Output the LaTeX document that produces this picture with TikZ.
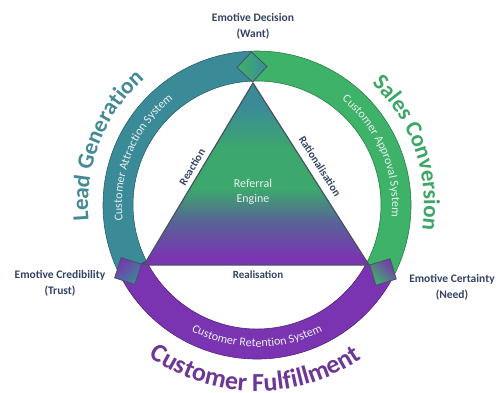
\documentclass[tikz,border=0pt]{standalone}
\usepackage{fontspec}
\setmainfont{Carlito}
\usetikzlibrary{calc, positioning, decorations.text, shapes.geometric}

\definecolor{ringteal}{RGB}{58,138,152}
\definecolor{ringgreen}{RGB}{62,178,104}
\definecolor{ringpurple}{RGB}{122,52,178}
\definecolor{enginegreen}{RGB}{60,168,110}
\definecolor{engineslate}{RGB}{88,100,150}
\definecolor{labelnavy}{RGB}{52,66,100}
\definecolor{edgegray}{RGB}{72,82,98}
\definecolor{leadcol}{RGB}{68,138,150}
\definecolor{salescol}{RGB}{60,166,100}
\definecolor{fulfilcol}{RGB}{110,55,150}
\definecolor{ringwhite}{RGB}{232,240,240}

\pgfdeclareverticalshading{engineshade}{100bp}{color(0bp)=(ringpurple); color(27bp)=(ringpurple); color(37bp)=(engineslate); color(46bp)=(enginegreen); color(57bp)=(enginegreen); color(69bp)=(ringteal); color(100bp)=(ringteal)}

\newcommand\ringbigfont{\bfseries\fontsize{23}{28}\selectfont}
\newcommand\ringhugefont{\bfseries\fontsize{26}{30}\selectfont}
\newcommand\ringsmallfont{\fontsize{12}{14}\selectfont}

\tikzset{
	ringsector/.style={fill=#1, draw=#1!70!black, line width=0.6pt},
	ringtext/.style={decorate, decoration={text along path, text align=center, text={#1}}},
	cornerlbl/.style={align=center, inner sep=0pt, text=labelnavy, font=\bfseries\fontsize{11.5}{16}\selectfont},
	edgelbl/.style={inner sep=0pt, text=labelnavy, font=\bfseries\fontsize{11}{13}\selectfont},
}

\begin{document}
\begin{tikzpicture}[x=1pt, y=1pt]
			\useasboundingbox (-257,-187) rectangle (242,205);
			
			% ring
			\filldraw[ringsector=ringteal] (92:154) arc[start angle=92, end angle=207, radius=154] -- (207:124) arc[start angle=207, end angle=92, radius=124] -- cycle;
			\filldraw[ringsector=ringpurple] (207:154) arc[start angle=207, end angle=332, radius=154] -- (332:124) arc[start angle=332, end angle=207, radius=124] -- cycle;
			\filldraw[ringsector=ringgreen] (332:154) arc[start angle=332, end angle=452, radius=154] -- (92:124) arc[start angle=92, end angle=-28, radius=124] -- cycle;
			
			% texts in the ring
			\path[ringtext={|\ringsmallfont\color{ringwhite}|Customer Attraction System}] (217.5:135) arc[start angle=217.5, end angle=97.5, radius=135];
			\path[ringtext={|\ringsmallfont\color{ringwhite}|Customer Approval System}] (83:135) arc[start angle=83, end angle=-37, radius=135];
			\path[ringtext={|\ringsmallfont\color{ringwhite}|Customer Retention System}] (210:142) arc[start angle=210, end angle=330, radius=142];
			
			% texts round the ring
			\path[ringtext={|\ringbigfont\color{leadcol}|Lead Generation}] (218.5:169) arc[start angle=218.5, end angle=98.5, radius=169];
			\path[ringtext={|\ringbigfont\color{salescol}|Sales Conversion}] (79:167) arc[start angle=79, end angle=-41, radius=167];
			\path[ringtext={|\ringhugefont\color{fulfilcol}|Customer Fulfillment}] (209.5:186) arc[start angle=209.5, end angle=329.5, radius=186];
			
			% referral engine
			\coordinate (apex) at (-4,122);
			\coordinate (lv) at (-113,-60);
			\coordinate (rv) at (112,-60);
			\shade[shading=engineshade, draw=edgegray, line width=1.2pt, line join=round] (apex) -- (lv) -- (rv) -- cycle;
			\node[text=ringwhite, align=center, font=\fontsize{12}{15}\selectfont] (engine) at (-4,13) {Referral\\Engine};
			
			\node[edgelbl, rotate=59] (reaction) at (-65,38) {Reaction};
			\node[edgelbl, rotate=-57.5] (rational) at (63,39) {Rationalisation};
			\node[edgelbl] (realis) at (1,-70) {Realisation};
			
			% diamonds
			\foreach \a/\x/\y/\ca/\cb/\sa in {92/-5/138/ringgreen/ringteal/90, 207/-129/-66/ringpurple/ringteal/45, 332/126/-67/ringpurple/ringgreen/-45}
				\shade[top color=\ca, bottom color=\cb, shading angle=\sa, draw=edgegray, line width=0.8pt] (\x,\y) +(\a:15) -- +(\a+90:15) -- +(\a+180:15) -- +(\a+270:15) -- cycle;
			
			\node[cornerlbl] (decision) at (-4,179) {Emotive Decision\\(Want)};
			\node[cornerlbl] (credib) at (-197,-78.5) {Emotive Credibility\\(Trust)};
			\node[cornerlbl] (certain) at (195,-82.5) {Emotive Certainty\\(Need)};
\end{tikzpicture}
\end{document}
